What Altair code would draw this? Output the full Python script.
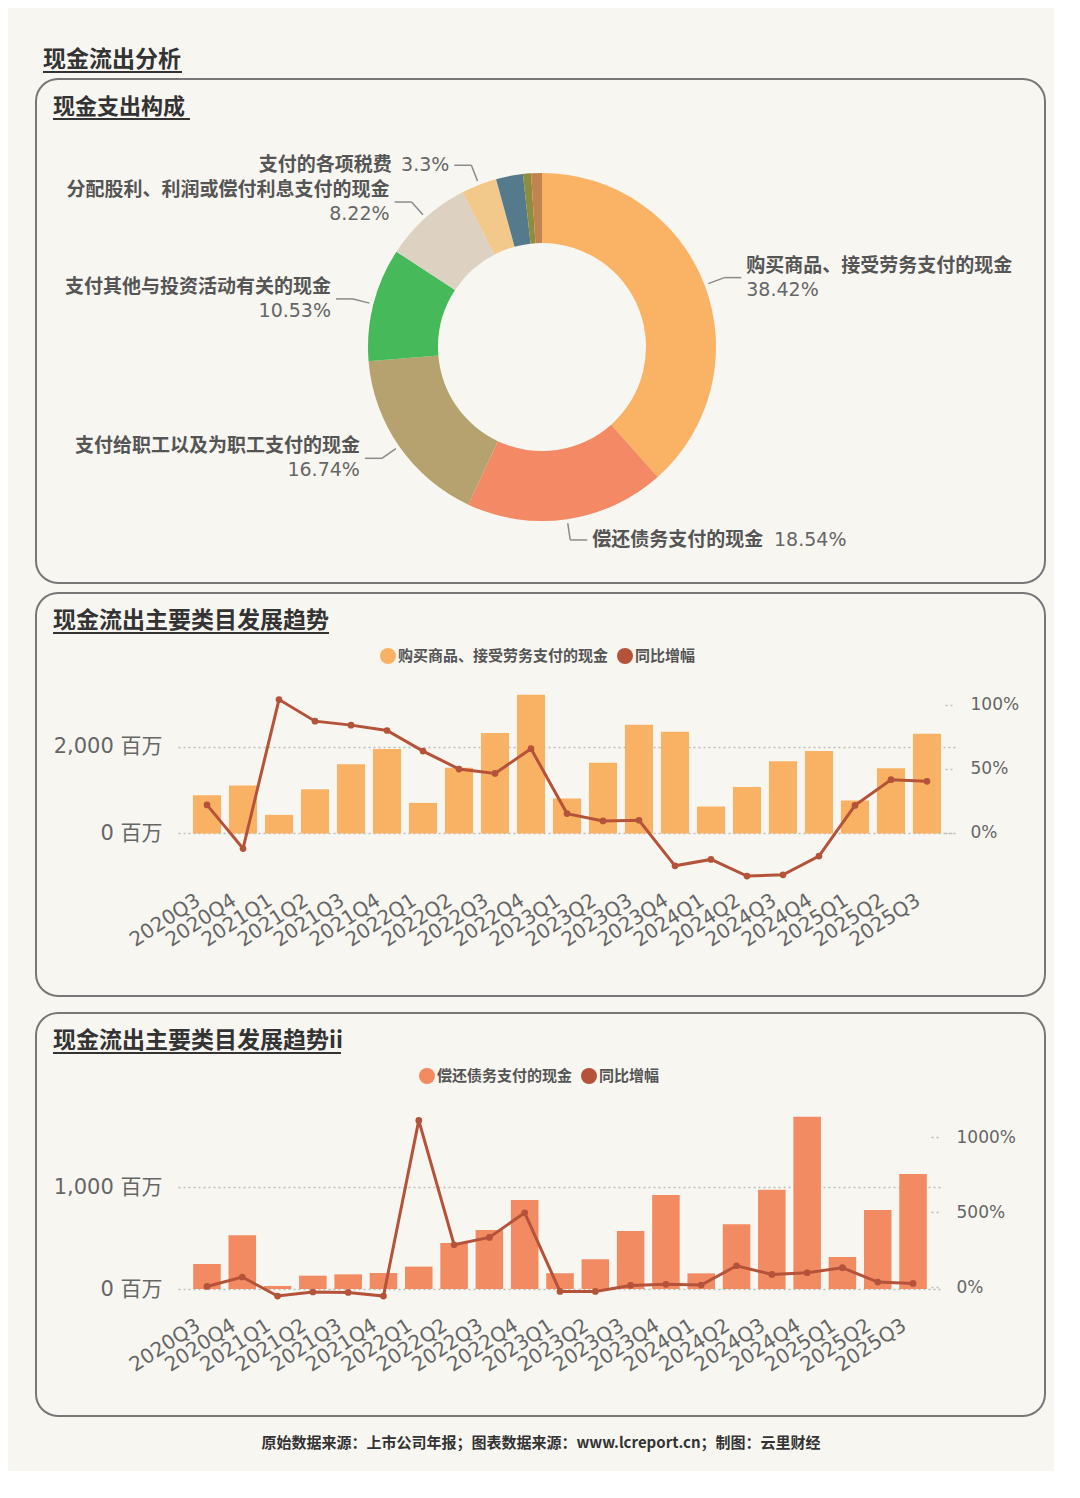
import altair as alt
import pandas as pd

BG = "#f8f6f1"
LINE = "#b5533a"
CJK = "Noto Sans CJK SC"
LAT = "DejaVu Sans, Noto Sans CJK SC"

# ---------------- data ----------------
pie_names = ["购买商品、接受劳务支付的现金", "偿还债务支付的现金", "支付给职工以及为职工支付的现金",
             "支付其他与投资活动有关的现金", "分配股利、利润或偿付利息支付的现金", "支付的各项税费",
             "购建固定资产、无形资产和其他长期资产支付的现金", "支付其他与筹资活动有关的现金",
             "支付其他与经营活动有关的现金"]
pie_shares = [38.42, 18.54, 16.74, 10.53, 8.22, 3.3, 2.5, 0.75, 1.0]
pie_colors = ["#fab264", "#f48965", "#b5a26e", "#46b95a", "#ddd1c1", "#f3c98b",
              "#557a8b", "#8e8d3f", "#c2844f"]

quarters = ["2020Q3", "2020Q4", "2021Q1", "2021Q2", "2021Q3", "2021Q4", "2022Q1", "2022Q2",
            "2022Q3", "2022Q4", "2023Q1", "2023Q2", "2023Q3", "2023Q4", "2024Q1", "2024Q2",
            "2024Q3", "2024Q4", "2025Q1", "2025Q2", "2025Q3"]
buy_amount = [880, 1103, 430, 1019, 1594, 1946, 705, 1517, 2314, 3195, 805, 1632, 2506, 2345,
              621, 1073, 1663, 1900, 759, 1502, 2299]
buy_yoy = [21.6, -12.5, 103.9, 87.0, 83.9, 79.7, 63.6, 49.6, 46.2, 65.5, 14.8, 9.1, 9.6, -26.0,
           -21.0, -34.0, -33.0, -18.4, 21.2, 41.3, 40.0]
debt_amount = [246, 528, 30, 131, 144, 157, 220, 452, 580, 875, 154, 292, 571, 925, 154, 636,
               977, 1695, 315, 777, 1131]
debt_yoy = [4, 67, -60, -33, -36, -60, 1111, 282, 331, 495, -29, -29, 11, 18, 13, 142, 84, 96,
            129, 33, 24]

main_title = "现金流出分析"
pie_title = "现金支出构成"
trend1_title = "现金流出主要类目发展趋势"
trend2_title = "现金流出主要类目发展趋势ii"
bar1_name = "购买商品、接受劳务支付的现金"
bar2_name = "偿还债务支付的现金"
yoy_name = "同比增幅"
footer_text = "原始数据来源：上市公司年报；图表数据来源：www.lcreport.cn；制图：云里财经"

W = 1009
BOX = alt.ViewBackground(stroke="#777777", strokeWidth=2, cornerRadius=22, fill=BG)
NOBOX = alt.ViewBackground(stroke="transparent", strokeWidth=0)


def title_layers(text, x, y, size, ul_width, ul_y):
    d = pd.DataFrame({"t": [text]})
    t = alt.Chart(d).mark_text(align="left", baseline="middle", font=CJK, fontSize=size,
                               fontWeight="bold", color="#333333").encode(
        text="t:N", x=alt.value(x), y=alt.value(y))
    u = alt.Chart(d).mark_rule(color="#333333", strokeWidth=2).encode(
        x=alt.value(x), x2=alt.value(x + ul_width), y=alt.value(ul_y))
    return [t, u]


# ---------------- title chart ----------------
title_chart = alt.layer(*title_layers(main_title, 7, 25, 23, 139, 37)).properties(
    width=W, height=38, view=NOBOX)

# ---------------- pie panel ----------------
CX, CY = 506, 268
R_IN, R_OUT, R_A, R_B = 104, 174, 178, 195

pie_df = pd.DataFrame({"idx": list(range(len(pie_names))), "name": pie_names, "share": pie_shares})

arc = alt.Chart(pie_df).mark_arc(innerRadius=R_IN, outerRadius=R_OUT).encode(
    theta=alt.Theta("share:Q", stack=True),
    order=alt.Order("idx:Q"),
    color=alt.Color("name:N", scale=alt.Scale(domain=pie_names, range=pie_colors), legend=None),
    x=alt.value(CX), y=alt.value(CY))

lab = alt.Chart(pie_df).transform_joinaggregate(total="sum(share)").transform_window(
    cum="sum(share)", sort=[alt.SortField("idx")]).transform_calculate(
    a=f"(datum.cum - datum.share/2)/datum.total*2*PI").transform_calculate(
    x1=f"{CX} + {R_A}*sin(datum.a)", y1=f"{CY} - {R_A}*cos(datum.a)",
    xe=f"{CX} + {R_B}*sin(datum.a)", ye=f"{CY} - {R_B}*cos(datum.a)",
    side="sin(datum.a) >= 0 ? 1 : -1",
    two="length(datum.name) > 10",
    vlab="datum.share + '%'").transform_calculate(
    xh="datum.xe + datum.side*17").transform_calculate(
    xt="datum.xh + datum.side*5").transform_calculate(
    xn="datum.two ? datum.xt : (datum.side < 0 ? datum.xt - length(datum.vlab)*12.4 - 8 : datum.xt)",
    xv="datum.two ? datum.xt : (datum.side < 0 ? datum.xt : datum.xt + length(datum.name)*19.2 + 9)",
    yn="datum.two ? datum.ye - 12 : datum.ye",
    yv="datum.two ? datum.ye + 12 : datum.ye").transform_filter("datum.share >= 3")

leader1 = lab.mark_rule(color="#8a8a8a", strokeWidth=1.5).encode(
    x=alt.X("x1:Q", scale=None, axis=None), y=alt.Y("y1:Q", scale=None, axis=None),
    x2="xe:Q", y2="ye:Q")
leader2 = lab.mark_rule(color="#8a8a8a", strokeWidth=1.5).encode(
    x=alt.X("xe:Q", scale=None, axis=None), y=alt.Y("ye:Q", scale=None, axis=None),
    x2="xh:Q", y2="ye:Q")


def pie_text(side_cond, align, xf, yf, tf, font, weight, color):
    return lab.transform_filter(side_cond).mark_text(
        align=align, baseline="middle", font=font, fontSize=19, fontWeight=weight,
        color=color).encode(
        x=alt.X(f"{xf}:Q", scale=None, axis=None), y=alt.Y(f"{yf}:Q", scale=None, axis=None),
        text=f"{tf}:N")


pie_labels = [
    pie_text("datum.side < 0", "right", "xn", "yn", "name", CJK, "bold", "#555555"),
    pie_text("datum.side < 0", "right", "xv", "yv", "vlab", LAT, "normal", "#666666"),
    pie_text("datum.side > 0", "left", "xn", "yn", "name", CJK, "bold", "#555555"),
    pie_text("datum.side > 0", "left", "xv", "yv", "vlab", LAT, "normal", "#666666"),
]

pie_panel = alt.layer(arc, leader1, leader2, *pie_labels,
                      *title_layers(pie_title, 17, 28, 22, 137, 40)).properties(
    width=W, height=504, view=BOX)


# ---------------- trend panels ----------------
def trend_panel(title, ul_w, amounts, yoys, bar_name, bar_color, left_dom, left_vals,
                right_dom, right_vals, x_range, p_outer, y_range, right_off, x_off, legend_x):
    df = pd.DataFrame({"q": quarters, "amount": amounts, "yoy": yoys})
    cscale = alt.Scale(domain=[bar_name, yoy_name], range=[bar_color, LINE])
    legend = alt.Legend(orient="none", legendX=legend_x, legendY=55, direction="horizontal",
                        title=None, symbolType="circle", symbolSize=256, symbolStrokeWidth=0,
                        symbolOpacity=1, labelFont=CJK, labelFontSize=15, labelFontWeight="bold",
                        labelColor="#555555", labelOffset=2, columnPadding=8, padding=0,
                        labelLimit=0)
    xscale = alt.Scale(range=x_range, paddingInner=0.22, paddingOuter=p_outer)
    xaxis = alt.Axis(orient="bottom", offset=x_off, labelAngle=-33, labelFont=LAT,
                     labelFontSize=20, labelColor="#666666", labelPadding=4, labelOffset=-14,
                     ticks=False, tickSize=0, domain=False, title=None, labelOverlap=False,
                     grid=False)
    lscale = alt.Scale(domain=left_dom, range=y_range, nice=False, zero=False)
    rscale = alt.Scale(domain=right_dom, range=y_range, nice=False, zero=False)
    laxis = alt.Axis(orient="left", offset=-x_range[0], values=left_vals,
                     labelExpr="format(datum.value, ',') + ' 百万'", domain=False, ticks=False,
                     tickSize=0, labelPadding=16, grid=True, gridDash=[2, 3], gridColor="#bbbbbb",
                     gridWidth=1.5, labelFont=LAT, labelFontSize=21, labelColor="#666666",
                     title=None)
    raxis = alt.Axis(orient="right", offset=right_off, values=right_vals,
                     labelExpr="datum.value + '%'", domain=False, ticks=True, tickSize=10,
                     tickDash=[2, 3], tickColor="#bbbbbb", tickWidth=1.5, labelPadding=15,
                     grid=False, labelFont=LAT, labelFontSize=17, labelColor="#666666",
                     title=None)

    bars = alt.Chart(df).transform_calculate(series=f"'{bar_name}'").mark_bar().encode(
        x=alt.X("q:N", sort=quarters, scale=xscale, axis=xaxis),
        y=alt.Y("amount:Q", scale=lscale, axis=laxis),
        y2=alt.datum(0),
        color=alt.Color("series:N", scale=cscale, legend=legend))
    line = alt.Chart(df).mark_line(color=LINE, strokeWidth=3).encode(
        x=alt.X("q:N", sort=quarters),
        y=alt.Y("yoy:Q", scale=rscale, axis=raxis))
    pts = alt.Chart(df).transform_calculate(series=f"'{yoy_name}'").mark_circle(
        size=45, opacity=1).encode(
        x=alt.X("q:N", sort=quarters),
        y=alt.Y("yoy:Q", scale=rscale, axis=None),
        color=alt.Color("series:N", scale=cscale, legend=legend))
    return alt.layer(bars, line, pts, *title_layers(title, 17, 28, 23, ul_w, 40)).resolve_scale(
        y="independent").properties(width=W, height=403, view=BOX)


trend1 = trend_panel(trend1_title, 276, buy_amount, buy_yoy, bar1_name, "#f9b264",
                     [-1279, 3237], [0, 2000], [-44.1, 109], [0, 50, 100],
                     [142, 920], 0.416, [296, 100], -100, -110, 344)
trend2 = trend_panel(trend2_title, 288, debt_amount, debt_yoy, bar2_name, "#f28a62",
                     [-295, 1711], [0, 1000], [-213, 1147], [0, 500, 1000],
                     [142, 906], 0.43, [306, 102], -114, -105, 383)

# ---------------- footer ----------------
footer = alt.Chart(pd.DataFrame({"t": [footer_text]})).mark_text(
    align="center", baseline="middle", font=CJK, fontSize=15, fontWeight="bold",
    color="#333333").encode(text="t:N", x=alt.value(505), y=alt.value(11)).properties(
    width=W, height=39, view=NOBOX)

top = alt.vconcat(title_chart, pie_panel, spacing=5).resolve_scale(color="independent")
mid = alt.vconcat(top, trend1, spacing=8).resolve_scale(color="independent")
bot = alt.vconcat(trend2, footer, spacing=15).resolve_scale(color="independent")
chart = alt.vconcat(mid, bot, spacing=15).resolve_scale(color="independent").properties(
    background=BG, padding={"left": 27, "top": 27, "right": 8, "bottom": 0}).configure_view(
    strokeWidth=0)

chart.save("out.html", embed_options={"renderer": "svg", "actions": False})
